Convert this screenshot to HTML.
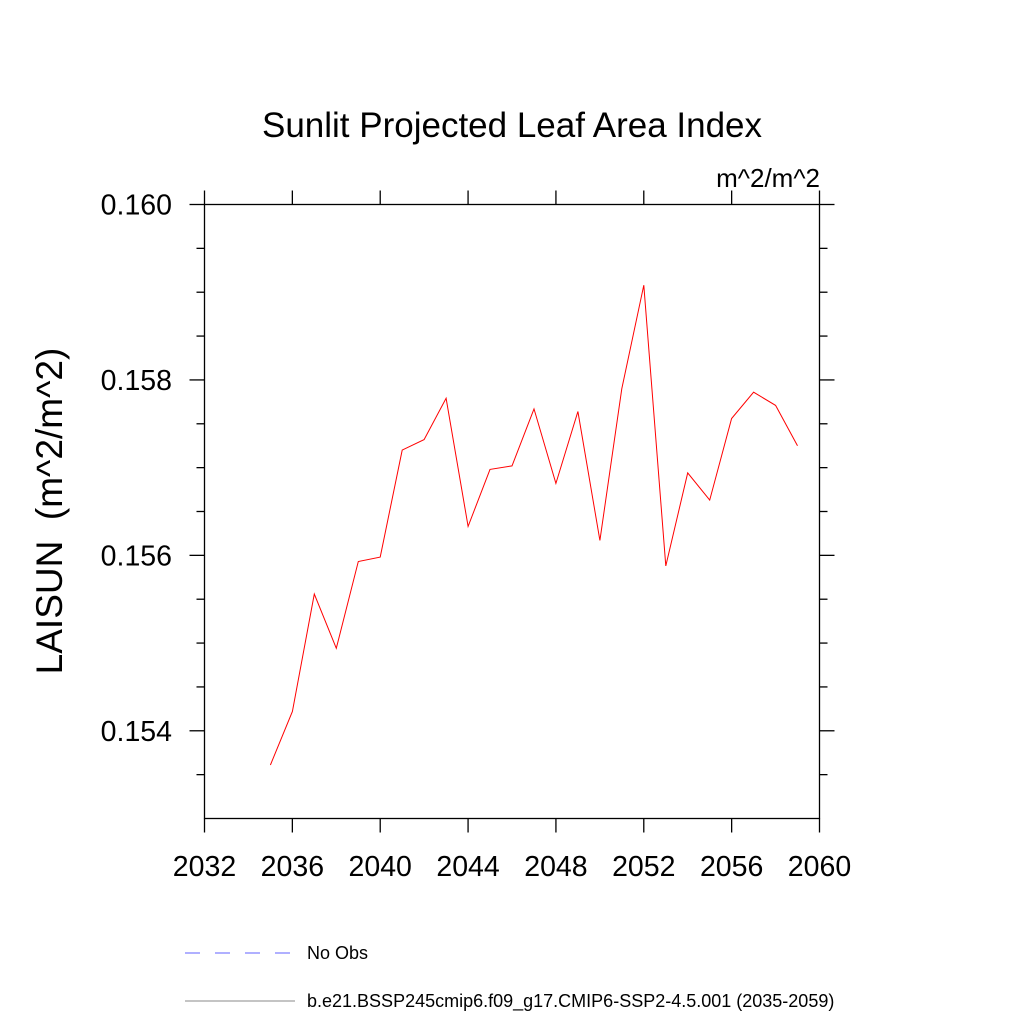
<!DOCTYPE html>
<html><head><meta charset="utf-8"><style>body{margin:0;background:#fff}svg{display:block}text{font-family:"Liberation Sans",sans-serif;fill:#000}</style></head>
<body>
<svg id="c" width="1024" height="1024">
<text x="512" y="137" font-size="35" text-anchor="middle">Sunlit Projected Leaf Area Index</text>
<text x="820" y="187" font-size="26" text-anchor="end">m^2/m^2</text>
<text transform="translate(62,511) rotate(-90)" font-size="37" text-anchor="middle" xml:space="preserve">LAISUN  (m^2/m^2)</text>
<g id="axes"></g>
<path id="line" fill="none" stroke="#ff0000" stroke-width="1"/>
<g>
<line x1="185" y1="953" x2="295" y2="953" stroke="#6060ff" stroke-dasharray="15,15"/>
<text x="307" y="959" font-size="18">No Obs</text>
<line x1="185" y1="1001" x2="295" y2="1001" stroke="#888"/>
<text x="307" y="1007" font-size="18">b.e21.BSSP245cmip6.f09_g17.CMIP6-SSP2-4.5.001 (2035-2059)</text>
</g>
</svg>
<script>
const years=[2035,2036,2037,2038,2039,2040,2041,2042,2043,2044,2045,2046,2047,2048,2049,2050,2051,2052,2053,2054,2055,2056,2057,2058,2059];
const values=[0.15361,0.15422,0.15556,0.15494,0.15593,0.15598,0.15720,0.15732,0.15779,0.15633,0.15698,0.15702,0.15767,0.15682,0.15764,0.15617,0.15790,0.15908,0.15588,0.15694,0.15663,0.15756,0.15786,0.15771,0.15725];
const xTicks=[2032,2036,2040,2044,2048,2052,2056,2060];
const yTicks=[0.154,0.156,0.158,0.160];
const yMinor=[0.1535,0.1545,0.155,0.1555,0.1565,0.157,0.1575,0.1585,0.159,0.1595];
const L=204.5,R=819.5,T=204.5,B=818.5;
const xs=v=>L+(v-2032)/28*(R-L);
const ys=v=>B-(v-0.153)/0.007*(B-T);
const ns="http://www.w3.org/2000/svg";
const g=document.getElementById('axes');
function ln(x1,y1,x2,y2,name){const e=document.createElementNS(ns,'line');e.setAttribute('x1',x1);e.setAttribute('y1',y1);e.setAttribute('x2',x2);e.setAttribute('y2',y2);e.setAttribute('stroke','#000');e.setAttribute('stroke-width','1.3');


g.appendChild(e);}
function tx(x,y,s,anchor,name){const e=document.createElementNS(ns,'text');e.setAttribute('x',x);e.setAttribute('y',y);e.setAttribute('font-size','28.5');e.setAttribute('text-anchor',anchor);e.textContent=s;


g.appendChild(e);}
const fr=document.createElementNS(ns,'rect');fr.setAttribute('x',L);fr.setAttribute('y',T);fr.setAttribute('width',R-L);fr.setAttribute('height',B-T);fr.setAttribute('fill','none');fr.setAttribute('stroke','#000');fr.setAttribute('stroke-width','1.3');


g.appendChild(fr);
xTicks.forEach(v=>{const x=xs(v);ln(x,B,x,B+14,'x-tick');ln(x,T,x,T-14,'x-tick-top');tx(x,876,String(v),'middle','x-tick-label');});
yTicks.forEach(v=>{const y=ys(v);ln(L,y,L-15,y,'y-tick');ln(R,y,R+15,y,'y-tick-right');tx(172,y+10,v.toFixed(3),'end','y-tick-label');});
yMinor.forEach(v=>{const y=ys(v);ln(L,y,L-8,y,'y-minor-tick');ln(R,y,R+8,y,'y-minor-tick-right');});
document.getElementById('line').setAttribute('d',years.map((y,i)=>(i?'L':'M')+xs(y).toFixed(1)+','+ys(values[i]).toFixed(1)).join(''));
</script>
</body></html>
